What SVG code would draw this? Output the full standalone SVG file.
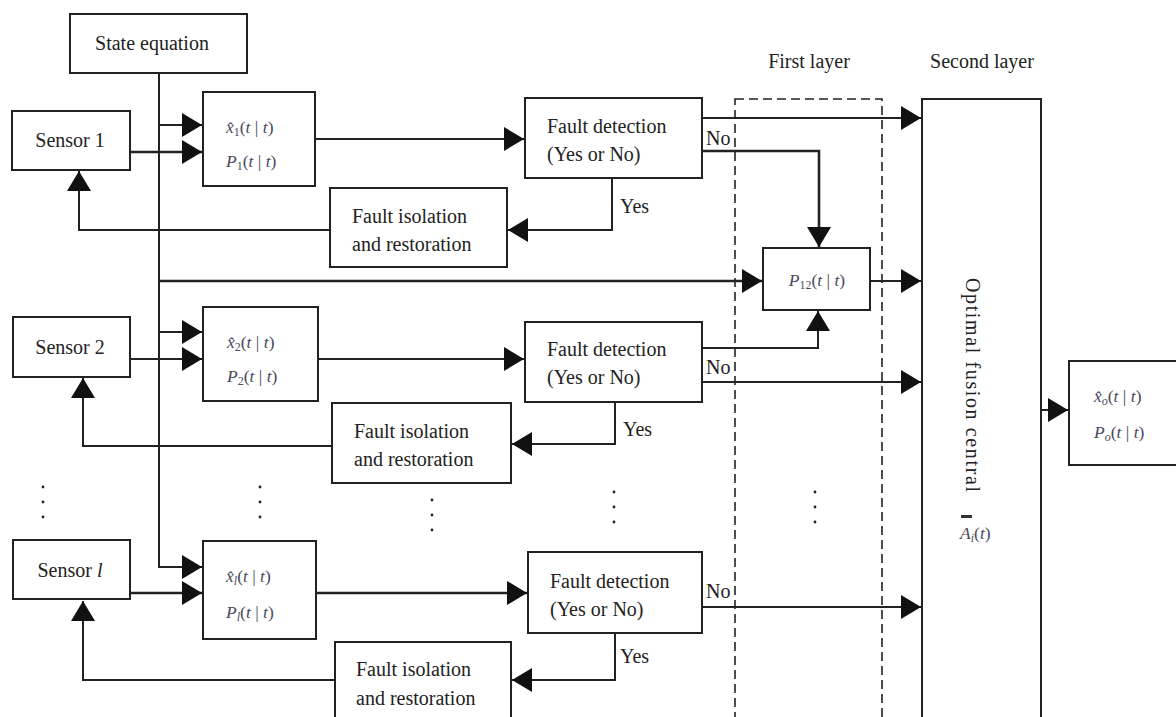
<svg xmlns="http://www.w3.org/2000/svg" width="1176" height="717" viewBox="0 0 1176 717">
  <defs>
    <style>
      .box { fill: #fff; stroke: #222; stroke-width: 2; }
      .ln { fill: none; stroke: #222; stroke-width: 2; }
      .thick { stroke-width: 2.6; }
      .dash { fill: none; stroke: #222; stroke-width: 1.6; stroke-dasharray: 9 5; }
      .t { font-family: "Liberation Serif", "Times New Roman", serif; font-size: 20px; fill: #222; }
      .m { font-family: "Liberation Serif", "Times New Roman", serif; font-size: 17.5px; fill: #4a4a5e; }
      .i { font-style: italic; }
      .sub { font-size: 12px; }
      .dot { fill: #222; }
    </style>
    <marker id="ah" markerUnits="userSpaceOnUse" markerWidth="21" markerHeight="24" refX="20" refY="12" orient="auto">
      <path d="M0,0 L20,12 L0,24 z" fill="#111"/>
    </marker>
  </defs>

  <rect width="1176" height="717" fill="#fff"/>

  <!-- layer frames and labels -->
  <g id="first-layer">
    <rect class="dash" x="735" y="99" width="147" height="640"/>
    <text class="t" x="809" y="68" text-anchor="middle">First layer</text>
  </g>
  <g id="second-layer-label">
    <text class="t" x="982" y="68" text-anchor="middle">Second layer</text>
  </g>

  <!-- connectors -->
  <g id="connectors">
    <!-- state equation bus -->
    <path class="ln" d="M159,73 V567 H202" marker-end="url(#ah)"/>
    <path class="ln" d="M159,125 H202" marker-end="url(#ah)"/>
    <path class="ln thick" d="M159,281 H762" marker-end="url(#ah)"/>
    <path class="ln" d="M159,332 H202" marker-end="url(#ah)"/>

    <!-- sensors to estimators -->
    <path class="ln thick" d="M130,152 H202" marker-end="url(#ah)"/>
    <path class="ln" d="M130,359 H202" marker-end="url(#ah)"/>
    <path class="ln thick" d="M130,593 H202" marker-end="url(#ah)"/>

    <!-- estimators to fault detection -->
    <path class="ln" d="M315,139 H524" marker-end="url(#ah)"/>
    <path class="ln" d="M318,359 H524" marker-end="url(#ah)"/>
    <path class="ln thick" d="M316,593 H527" marker-end="url(#ah)"/>

    <!-- "Yes" branches to isolation -->
    <path class="ln" d="M612,178 V230 H508" marker-end="url(#ah)"/>
    <path class="ln" d="M615,402 V444 H512" marker-end="url(#ah)"/>
    <path class="ln" d="M615,633 V680 H512" marker-end="url(#ah)"/>

    <!-- isolation feedback to sensors -->
    <path class="ln" d="M330,230 H79 V171" marker-end="url(#ah)"/>
    <path class="ln" d="M332,446 H83 V378" marker-end="url(#ah)"/>
    <path class="ln" d="M335,680 H83 V601" marker-end="url(#ah)"/>

    <!-- "No" branches -->
    <path class="ln" d="M702,118 H921" marker-end="url(#ah)"/>
    <path class="ln thick" d="M702,151 H819 V247" marker-end="url(#ah)"/>
    <path class="ln" d="M702,348 H818 V311" marker-end="url(#ah)"/>
    <path class="ln" d="M702,382 H921" marker-end="url(#ah)"/>
    <path class="ln" d="M702,607 H921" marker-end="url(#ah)"/>

    <!-- first layer to fusion, fusion to output -->
    <path class="ln" d="M870,281 H921" marker-end="url(#ah)"/>
    <path class="ln" d="M1041,410 H1068" marker-end="url(#ah)"/>
  </g>

  <!-- nodes -->
  <g id="state-equation">
    <rect class="box" x="70" y="14" width="177" height="59"/>
    <text class="t" x="152" y="50" text-anchor="middle">State equation</text>
  </g>

  <g id="sensor-1">
    <rect class="box" x="12" y="111" width="118" height="59"/>
    <text class="t" x="70" y="147" text-anchor="middle">Sensor 1</text>
  </g>
  <g id="sensor-2">
    <rect class="box" x="13" y="317" width="117" height="60"/>
    <text class="t" x="70" y="354" text-anchor="middle">Sensor 2</text>
  </g>
  <g id="sensor-l">
    <rect class="box" x="13" y="540" width="117" height="59"/>
    <text class="t" x="70" y="577" text-anchor="middle">Sensor <tspan class="i">l</tspan></text>
  </g>

  <g id="estimator-1">
    <rect class="box" x="203" y="92" width="112" height="94"/>
    <text class="m" x="226" y="133"><tspan class="i">x&#x302;</tspan><tspan class="sub" dy="3">1</tspan><tspan dy="-3">(</tspan><tspan class="i">t</tspan> | <tspan class="i">t</tspan>)</text>
    <text class="m" x="226" y="167"><tspan class="i">P</tspan><tspan class="sub" dy="3">1</tspan><tspan dy="-3">(</tspan><tspan class="i">t</tspan> | <tspan class="i">t</tspan>)</text>
  </g>
  <g id="estimator-2">
    <rect class="box" x="203" y="307" width="115" height="94"/>
    <text class="m" x="227" y="348"><tspan class="i">x&#x302;</tspan><tspan class="sub" dy="3">2</tspan><tspan dy="-3">(</tspan><tspan class="i">t</tspan> | <tspan class="i">t</tspan>)</text>
    <text class="m" x="227" y="382"><tspan class="i">P</tspan><tspan class="sub" dy="3">2</tspan><tspan dy="-3">(</tspan><tspan class="i">t</tspan> | <tspan class="i">t</tspan>)</text>
  </g>
  <g id="estimator-l">
    <rect class="box" x="203" y="541" width="113" height="98"/>
    <text class="m" x="226" y="582"><tspan class="i">x&#x302;</tspan><tspan class="sub i" dy="3">l</tspan><tspan dy="-3">(</tspan><tspan class="i">t</tspan> | <tspan class="i">t</tspan>)</text>
    <text class="m" x="226" y="618"><tspan class="i">P</tspan><tspan class="sub i" dy="3">l</tspan><tspan dy="-3">(</tspan><tspan class="i">t</tspan> | <tspan class="i">t</tspan>)</text>
  </g>

  <g id="fault-detection-1">
    <rect class="box" x="525" y="98" width="177" height="80"/>
    <text class="t" x="547" y="133">Fault detection</text>
    <text class="t" x="547" y="161">(Yes or No)</text>
  </g>
  <g id="fault-detection-2">
    <rect class="box" x="525" y="322" width="177" height="80"/>
    <text class="t" x="547" y="356">Fault detection</text>
    <text class="t" x="547" y="384">(Yes or No)</text>
  </g>
  <g id="fault-detection-l">
    <rect class="box" x="528" y="552" width="174" height="81"/>
    <text class="t" x="550" y="588">Fault detection</text>
    <text class="t" x="550" y="616">(Yes or No)</text>
  </g>

  <g id="fault-isolation-1">
    <rect class="box" x="330" y="188" width="177" height="79"/>
    <text class="t" x="352" y="223">Fault isolation</text>
    <text class="t" x="352" y="251">and restoration</text>
  </g>
  <g id="fault-isolation-2">
    <rect class="box" x="332" y="403" width="179" height="80"/>
    <text class="t" x="354" y="438">Fault isolation</text>
    <text class="t" x="354" y="466">and restoration</text>
  </g>
  <g id="fault-isolation-l">
    <rect class="box" x="335" y="642" width="176" height="90"/>
    <text class="t" x="356" y="676">Fault isolation</text>
    <text class="t" x="356" y="705">and restoration</text>
  </g>

  <!-- branch labels -->
  <g id="branch-labels">
    <text class="t" x="706" y="145">No</text>
    <text class="t" x="706" y="374">No</text>
    <text class="t" x="706" y="598">No</text>
    <text class="t" x="620" y="213">Yes</text>
    <text class="t" x="623" y="436">Yes</text>
    <text class="t" x="620" y="663">Yes</text>
  </g>

  <g id="p12">
    <rect class="box" x="763" y="248" width="107" height="62"/>
    <text class="m" x="817" y="286" text-anchor="middle"><tspan class="i">P</tspan><tspan class="sub" dy="3">12</tspan><tspan dy="-3">(</tspan><tspan class="i">t</tspan> | <tspan class="i">t</tspan>)</text>
  </g>

  <g id="optimal-fusion">
    <rect class="box" x="922" y="99" width="119" height="640"/>
    <text class="t" transform="translate(966,385) rotate(90)" text-anchor="middle" font-size="21" textLength="214" lengthAdjust="spacing">Optimal fusion central</text>
    <rect x="961" y="515" width="11" height="3" fill="#333"/>
    <text class="m" x="960" y="539"><tspan class="i">A</tspan><tspan class="sub i" dy="3">i</tspan><tspan dy="-3">(</tspan><tspan class="i">t</tspan>)</text>
  </g>

  <g id="fused-output">
    <rect class="box" x="1069" y="361" width="130" height="104"/>
    <text class="m" x="1094" y="402"><tspan class="i">x&#x302;</tspan><tspan class="sub i" dy="3">o</tspan><tspan dy="-3">(</tspan><tspan class="i">t</tspan> | <tspan class="i">t</tspan>)</text>
    <text class="m" x="1094" y="438"><tspan class="i">P</tspan><tspan class="sub i" dy="3">o</tspan><tspan dy="-3">(</tspan><tspan class="i">t</tspan> | <tspan class="i">t</tspan>)</text>
  </g>

  <!-- ellipsis dots between sensor 2 and sensor l -->
  <g id="ellipsis">
    <circle class="dot" cx="43" cy="487" r="1.4"/><circle class="dot" cx="43" cy="502" r="1.4"/><circle class="dot" cx="43" cy="517" r="1.4"/>
    <circle class="dot" cx="260" cy="487" r="1.4"/><circle class="dot" cx="260" cy="502" r="1.4"/><circle class="dot" cx="260" cy="517" r="1.4"/>
    <circle class="dot" cx="432" cy="500" r="1.4"/><circle class="dot" cx="432" cy="515" r="1.4"/><circle class="dot" cx="432" cy="530" r="1.4"/>
    <circle class="dot" cx="614" cy="492" r="1.4"/><circle class="dot" cx="614" cy="507" r="1.4"/><circle class="dot" cx="614" cy="522" r="1.4"/>
    <circle class="dot" cx="815" cy="492" r="1.4"/><circle class="dot" cx="815" cy="507" r="1.4"/><circle class="dot" cx="815" cy="522" r="1.4"/>
  </g>
</svg>
